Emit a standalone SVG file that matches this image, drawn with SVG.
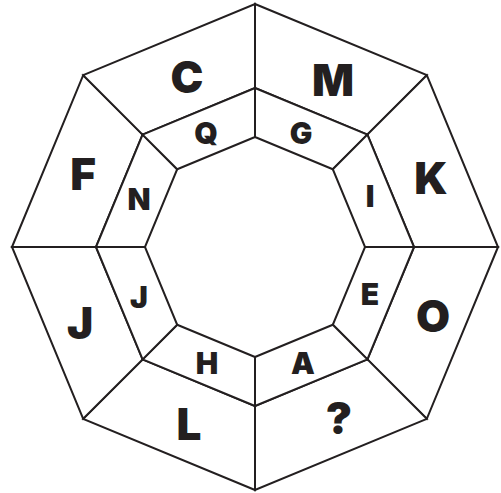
<svg xmlns="http://www.w3.org/2000/svg" width="501" height="493" viewBox="0 0 501 493">
<style>
.cell{fill:#fff;stroke:#231f20;stroke-width:2;stroke-linejoin:miter}
.big{font-family:Inter,"DejaVu Sans",sans-serif;font-weight:900;font-size:44px;fill:#231f20;text-anchor:middle}
.small{font-family:Inter,"DejaVu Sans",sans-serif;font-weight:900;font-size:30px;fill:#231f20;text-anchor:middle}
</style>
<rect width="501" height="493" fill="#fff"/>
<g id="outer-ring">
<g id="cell-M"><polygon class="cell" points="255,4 426.8,75.2 367.4,134.6 255,88"/><text class="big" x="333" y="96">M</text></g>
<g id="cell-K"><polygon class="cell" points="426.8,75.2 498,247 414,247 367.4,134.6"/><text class="big" x="431" y="194">K</text></g>
<g id="cell-O"><polygon class="cell" points="498,247 426.8,418.8 367.4,359.4 414,247"/><text class="big" x="433" y="332">O</text></g>
<g id="cell-Q5"><polygon class="cell" points="426.8,418.8 255,490 255,406 367.4,359.4"/><text class="big" x="339" y="434">?</text></g>
<g id="cell-L"><polygon class="cell" points="255,490 83.2,418.8 142.6,359.4 255,406"/><text class="big" x="189" y="440">L</text></g>
<g id="cell-J1"><polygon class="cell" points="83.2,418.8 12,247 96,247 142.6,359.4"/><text class="big" x="80" y="339">J</text></g>
<g id="cell-F"><polygon class="cell" points="12,247 83.2,75.2 142.6,134.6 96,247"/><text class="big" x="83" y="190">F</text></g>
<g id="cell-C"><polygon class="cell" points="83.2,75.2 255,4 255,88 142.6,134.6"/><text class="big" x="187" y="93">C</text></g>
</g>
<g id="inner-ring">
<g id="cell-G"><polygon class="cell" points="255,88 367.4,134.6 332.8,169.2 255,137"/><text class="small" x="301" y="144">G</text></g>
<g id="cell-I"><polygon class="cell" points="367.4,134.6 414,247 365,247 332.8,169.2"/><text class="small" x="370" y="207">I</text></g>
<g id="cell-E"><polygon class="cell" points="414,247 367.4,359.4 332.8,324.8 365,247"/><text class="small" x="370" y="305">E</text></g>
<g id="cell-A"><polygon class="cell" points="367.4,359.4 255,406 255,357 332.8,324.8"/><text class="small" x="303" y="374">A</text></g>
<g id="cell-H"><polygon class="cell" points="255,406 142.6,359.4 177.2,324.8 255,357"/><text class="small" x="207" y="374">H</text></g>
<g id="cell-J2"><polygon class="cell" points="142.6,359.4 96,247 145,247 177.2,324.8"/><text class="small" x="139" y="308">J</text></g>
<g id="cell-N"><polygon class="cell" points="96,247 142.6,134.6 177.2,169.2 145,247"/><text class="small" x="139" y="210">N</text></g>
<g id="cell-Q"><polygon class="cell" points="142.6,134.6 255,88 255,137 177.2,169.2"/><text class="small" x="206" y="144">Q</text></g>
</g>
</svg>
